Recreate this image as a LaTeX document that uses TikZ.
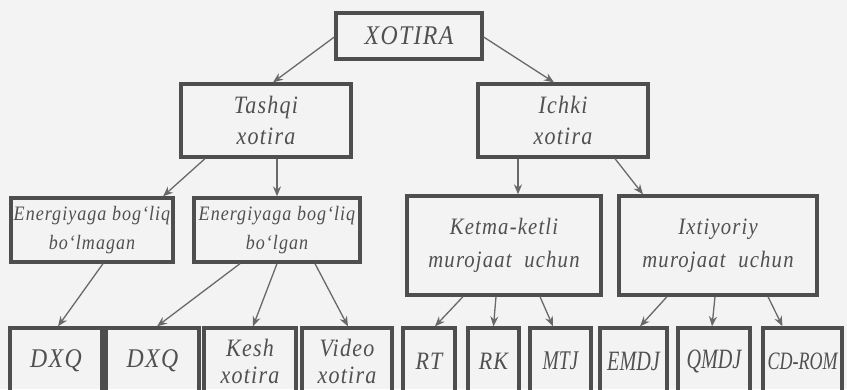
\documentclass[tikz,border=0pt]{standalone}
\usepackage{fontspec}
\setmainfont{Liberation Serif}
\newfontfamily\sxfont{Liberation Serif}[FakeStretch=0.88,LetterSpace=5]
\newfontfamily\torfont{Liberation Serif}[FakeStretch=0.72]
\usetikzlibrary{arrows.meta}

\definecolor{qogoz}{RGB}{243,243,243}
\definecolor{hoshiya}{RGB}{78,78,78}
\definecolor{yozuv}{RGB}{80,80,80}
\definecolor{strelka}{RGB}{105,105,105}

\newcommand{\fs}[2]{\sxfont\itshape\fontsize{#1}{#2}\selectfont}
\newcommand{\ft}[1]{\torfont\itshape\fontsize{#1}{#1}\selectfont}

\tikzset{
	blok/.style={draw=hoshiya, line width=3.3pt, inner sep=0pt, align=center, text=yozuv},
	strl/.style={draw=strelka, line width=1.3pt, -{Stealth[length=10pt,width=8pt]}}
}

\begin{document}
\begin{tikzpicture}[x=1pt, y=-1pt]

		% page

		\useasboundingbox (0,0) rectangle (847,389);

		\fill[qogoz] (0,0) rectangle (847,389);

		\clip (0,0) rectangle (847,389);

		% top

		\node[blok, minimum width=146pt, minimum height=46pt, font=\fs{27}{30}] (xotira) at (409,36) {XOTIRA};

		\node[blok, minimum width=170pt, minimum height=73pt, font=\fs{25}{31}] (tashqi) at (266,120.5) {Tashqi\\xotira};

		\node[blok, minimum width=170pt, minimum height=73pt, font=\fs{25}{31}] (ichki) at (563,120.5) {Ichki\\xotira};

		% middle

		\node[blok, minimum width=162pt, minimum height=64pt, font=\fs{20.5}{29}] (energ1) at (92,230) {Energiyaga\ bog‘liq\\bo‘lmagan};

		\node[blok, minimum width=166pt, minimum height=64pt, font=\fs{20.5}{29}] (energ2) at (277,230) {Energiyaga\ bog‘liq\\bo‘lgan};

		\node[blok, minimum width=194pt, minimum height=99pt, font=\fs{23.5}{33}] (ketma) at (504,245.5) {Ketma-ketli\\murojaat\ \ uchun};

		\node[blok, minimum width=198pt, minimum height=99pt, font=\fs{23.5}{33}] (ixtiy) at (718,245.5) {Ixtiyoriy\\murojaat\ \ uchun};

		% bottom

		\node[blok, minimum width=92pt, minimum height=66pt, font=\fs{27}{30}] (dxq1) at (56,361) {DXQ};

		\node[blok, minimum width=93pt, minimum height=66pt, font=\fs{27}{30}] (dxq2) at (152.5,361) {DXQ};

		\node[blok, minimum width=92pt, minimum height=66pt, font=\fs{25}{27}] (kesh) at (250,361) {Kesh\\xotira};

		\node[blok, minimum width=90pt, minimum height=66pt, font=\fs{25}{27}] (video) at (347,361) {Video\\xotira};

		\node[blok, minimum width=52pt, minimum height=66pt, font=\fs{25}{27}] (rt) at (429,361) {RT};

		\node[blok, minimum width=51pt, minimum height=66pt, font=\fs{25}{27}] (rk) at (493.5,361) {RK};

		\node[blok, minimum width=61pt, minimum height=66pt, font=\ft{27}] (mtj) at (560.5,361) {MTJ};

		\node[blok, minimum width=67pt, minimum height=66pt, font=\ft{28}] (emdj) at (633.5,361) {EMDJ};

		\node[blok, minimum width=72pt, minimum height=66pt, font=\ft{28}] (qmdj) at (714,361) {QMDJ};

		\node[blok, minimum width=79pt, minimum height=66pt, font=\ft{25}] (cdrom) at (802.5,361) {CD-ROM};

		% arrows

		\draw[strl] ([yshift=-1pt]xotira.west) -- ([xshift=7pt]tashqi.north);

		\draw[strl] ([yshift=-1pt]xotira.east) -- ([xshift=-9pt]ichki.north);

		\draw[strl] ([xshift=-61pt]tashqi.south) -- ([xshift=71pt]energ1.north);

		\draw[strl] ([xshift=11pt]tashqi.south) -- (energ2.north);

		\draw[strl] ([xshift=-45pt]ichki.south) -- ([xshift=14pt]ketma.north);

		\draw[strl] ([xshift=52pt]ichki.south) -- ([xshift=-75pt]ixtiy.north);

		\draw[strl] ([xshift=11pt]energ1.south) -- ([xshift=2pt]dxq1.north);

		\draw[strl] ([xshift=-37pt]energ2.south) -- ([xshift=4.5pt]dxq2.north);

		\draw[strl] (energ2.south) -- ([xshift=3pt]kesh.north);

		\draw[strl] ([xshift=38pt]energ2.south) -- ([xshift=1pt]video.north);

		\draw[strl] ([xshift=-41pt]ketma.south) -- ([xshift=6pt]rt.north);

		\draw[strl] ([xshift=-8pt]ketma.south) -- (rk.north);

		\draw[strl] ([xshift=36pt]ketma.south) -- ([xshift=-7.5pt]mtj.north);

		\draw[strl] ([xshift=-51pt]ixtiy.south) -- ([xshift=6.5pt]emdj.north);

		\draw[strl] ([xshift=-3pt]ixtiy.south) -- ([xshift=-2pt]qmdj.north);

		\draw[strl] ([xshift=50pt]ixtiy.south) -- ([xshift=-20pt]cdrom.north);

	\end{tikzpicture}
\end{document}
